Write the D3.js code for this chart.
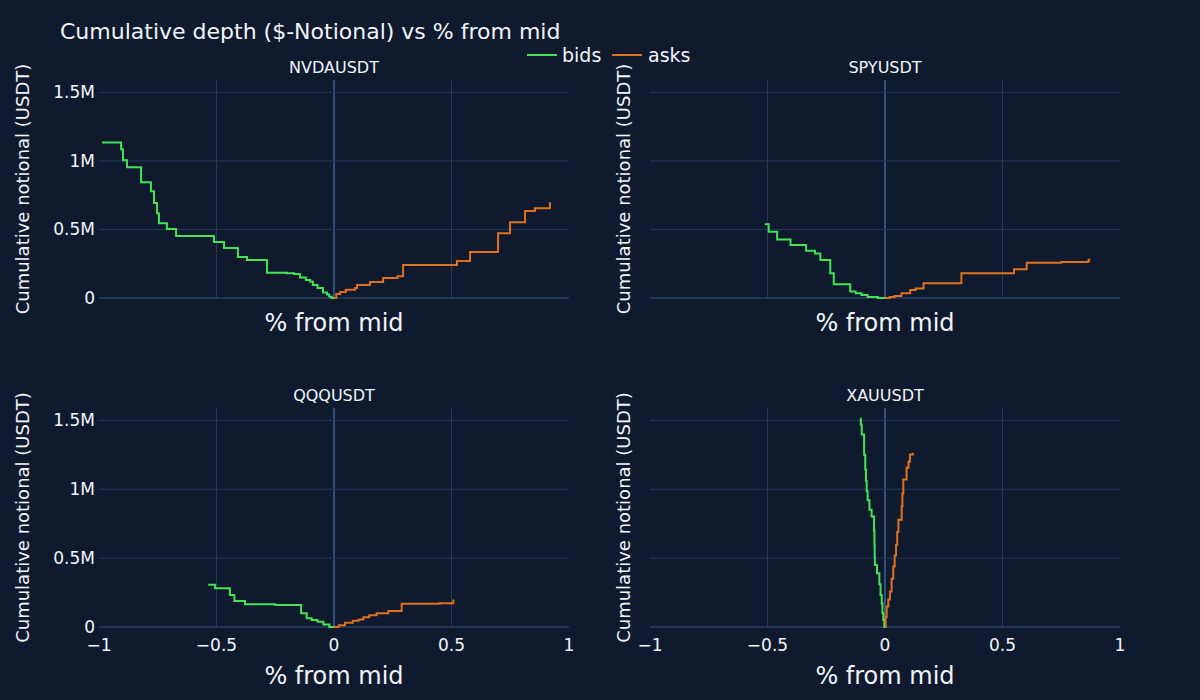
<!DOCTYPE html>
<html>
<head>
<meta charset="utf-8">
<script src="https://cdn.jsdelivr.net/npm/d3@7/dist/d3.min.js"></script>
<style>
  html, body { margin: 0; padding: 0; background: #0f1a2e; }
  svg { display: block; font-family: "DejaVu Sans", Verdana, sans-serif; }
</style>
</head>
<body>
<svg id="chart" width="1200" height="700"></svg>
<script>
// ---- data (x = % from mid, y = cumulative notional in USDT millions) ----
const symbols = ["NVDAUSDT", "SPYUSDT", "QQQUSDT", "XAUUSDT"];

const nvdaBids = [[0,0],[-0.01,0.01],[-0.02,0.025],[-0.03,0.04],[-0.047,0.073],[-0.07,0.095],[-0.09,0.12],[-0.102,0.131],[-0.12,0.15],[-0.145,0.175],[-0.17,0.18],[-0.2,0.185],[-0.285,0.277],[-0.37,0.299],[-0.409,0.364],[-0.468,0.408],[-0.511,0.452],[-0.672,0.503],[-0.711,0.546],[-0.745,0.619],[-0.753,0.692],[-0.766,0.779],[-0.779,0.845],[-0.821,0.954],[-0.881,1.005],[-0.898,1.085],[-0.906,1.135],[-0.987,1.135]];
const nvdaAsks = [[0,0],[0.01,0.03],[0.026,0.044],[0.05,0.06],[0.089,0.073],[0.098,0.095],[0.153,0.117],[0.209,0.146],[0.27,0.158],[0.294,0.24],[0.523,0.269],[0.579,0.335],[0.698,0.473],[0.749,0.553],[0.813,0.634],[0.855,0.655],[0.919,0.699]];

const spyBids = [[0,0],[-0.03,0.008],[-0.074,0.022],[-0.1,0.035],[-0.125,0.048],[-0.148,0.1],[-0.218,0.18],[-0.233,0.277],[-0.275,0.325],[-0.298,0.345],[-0.336,0.386],[-0.402,0.427],[-0.459,0.483],[-0.495,0.537],[-0.511,0.537]];
const spyAsks = [[0,0],[0.02,0.008],[0.041,0.015],[0.07,0.035],[0.107,0.058],[0.13,0.07],[0.164,0.107],[0.325,0.18],[0.549,0.209],[0.603,0.257],[0.75,0.262],[0.865,0.272],[0.869,0.289]];

const qqqBids = [[0,0],[-0.02,0.018],[-0.045,0.039],[-0.07,0.05],[-0.095,0.063],[-0.116,0.1],[-0.14,0.16],[-0.25,0.165],[-0.379,0.189],[-0.424,0.233],[-0.443,0.282],[-0.506,0.306],[-0.535,0.306]];
const qqqAsks = [[0,0],[0.02,0.012],[0.047,0.031],[0.08,0.045],[0.105,0.055],[0.125,0.07],[0.15,0.085],[0.181,0.1],[0.231,0.117],[0.288,0.168],[0.45,0.172],[0.508,0.2]];

const xauBids = [[0,0],[-0.003,0.05],[-0.007,0.1],[-0.011,0.17],[-0.014,0.233],[-0.019,0.31],[-0.024,0.391],[-0.034,0.45],[-0.043,0.512],[-0.044,0.6],[-0.045,0.7],[-0.047,0.803],[-0.057,0.852],[-0.066,0.92],[-0.074,0.985],[-0.078,1.06],[-0.081,1.143],[-0.084,1.25],[-0.089,1.398],[-0.099,1.471],[-0.103,1.52]];
const xauAsks = [[0,0],[0.003,0.07],[0.007,0.148],[0.014,0.2],[0.021,0.257],[0.028,0.35],[0.035,0.439],[0.041,0.52],[0.047,0.597],[0.052,0.69],[0.057,0.779],[0.071,0.876],[0.074,0.97],[0.078,1.071],[0.092,1.156],[0.1,1.2],[0.106,1.253],[0.118,1.265]];

const xTicks = [-1, -0.5, 0, 0.5, 1];
const xTickLabels = ["\u22121", "\u22120.5", "0", "0.5", "1"];
const yTicks = [0, 0.5, 1, 1.5];
const yTickLabels = ["0", "0.5M", "1M", "1.5M"];

const panels = [
  { name: symbols[0], bids: nvdaBids, asks: nvdaAsks, col: 0, row: 0 },
  { name: symbols[1], bids: spyBids, asks: spyAsks, col: 1, row: 0 },
  { name: symbols[2], bids: qqqBids, asks: qqqAsks, col: 0, row: 1 },
  { name: symbols[3], bids: xauBids, asks: xauAsks, col: 1, row: 1 }
];

// ---- layout ----
const colX = [[99, 569], [650, 1120]];
const rowY = [[80, 298], [408, 627]];
const C = { bids: "#42e355", asks: "#e0711c", grid: "#24385a", zero: "#34507f", text: "#f2f5fa" };

const svg = d3.select("#chart");
svg.append("rect").attr("width", 1200).attr("height", 700).attr("fill", "#0f1a2e");

svg.append("text").attr("x", 60).attr("y", 39).attr("fill", C.text)
  .attr("font-size", 22).text("Cumulative depth ($-Notional) vs % from mid");

// legend
const leg = svg.append("g");
[["bids", C.bids, 527, 562], ["asks", C.asks, 612, 648]].forEach(([lab, col, lx, tx]) => {
  leg.append("line").attr("x1", lx).attr("x2", lx + 30).attr("y1", 55).attr("y2", 55)
    .attr("stroke", col).attr("stroke-width", 2);
  leg.append("text").attr("x", tx).attr("y", 62).attr("fill", C.text)
    .attr("font-size", 19).text(lab);
});

panels.forEach(p => {
  const [x0, x1] = colX[p.col];
  const [y0, y1] = rowY[p.row];
  const x = d3.scaleLinear().domain([-1, 1]).range([x0, x1]);
  const y = d3.scaleLinear().domain([0, 1.59]).range([y1, y0]);
  const g = svg.append("g");

  // grid
  xTicks.forEach(t => {
    if (t === -1 || t === 1) return;
    g.append("line").attr("x1", x(t)).attr("x2", x(t)).attr("y1", y0).attr("y2", y1)
      .attr("stroke", t === 0 ? C.zero : C.grid).attr("stroke-width", t === 0 ? 2 : 1);
  });
  yTicks.forEach(t => {
    g.append("line").attr("x1", x0).attr("x2", x1).attr("y1", y(t)).attr("y2", y(t))
      .attr("stroke", t === 0 ? C.zero : C.grid).attr("stroke-width", 1);
  });

  // y tick labels (left column only)
  if (p.col === 0) {
    yTicks.forEach((t, i) => {
      g.append("text").attr("x", x0 - 4).attr("y", y(t)).attr("dy", "0.35em")
        .attr("text-anchor", "end").attr("fill", C.text).attr("font-size", 17).text(yTickLabels[i]);
    });
  }
  // x tick labels (bottom row only)
  if (p.row === 1) {
    xTicks.forEach((t, i) => {
      g.append("text").attr("x", x(t)).attr("y", y1 + 24).attr("text-anchor", "middle")
        .attr("fill", C.text).attr("font-size", 17).text(xTickLabels[i]);
    });
  }

  // axis titles
  g.append("text").attr("x", (x0 + x1) / 2).attr("y", y1 + (p.row === 1 ? 57 : 33))
    .attr("text-anchor", "middle").attr("fill", C.text).attr("font-size", 24).text("% from mid");
  const ty = (y0 + y1) / 2;
  const tx = p.col === 0 ? 29 : 630;
  g.append("text").attr("transform", `translate(${tx},${ty}) rotate(-90)`)
    .attr("text-anchor", "middle").attr("fill", C.text).attr("font-size", 18)
    .text("Cumulative notional (USDT)");

  // subplot title
  g.append("text").attr("x", (x0 + x1) / 2).attr("y", y0 - 7).attr("text-anchor", "middle")
    .attr("fill", C.text).attr("font-size", 16).text(p.name);

  const line = d3.line().x(d => x(d[0])).y(d => y(d[1])).curve(d3.curveStepAfter);
  g.append("path").datum(p.bids).attr("d", line).attr("fill", "none")
    .attr("stroke", C.bids).attr("stroke-width", 2);
  g.append("path").datum(p.asks).attr("d", line).attr("fill", "none")
    .attr("stroke", C.asks).attr("stroke-width", 2);
});
</script>
</body>
</html>
